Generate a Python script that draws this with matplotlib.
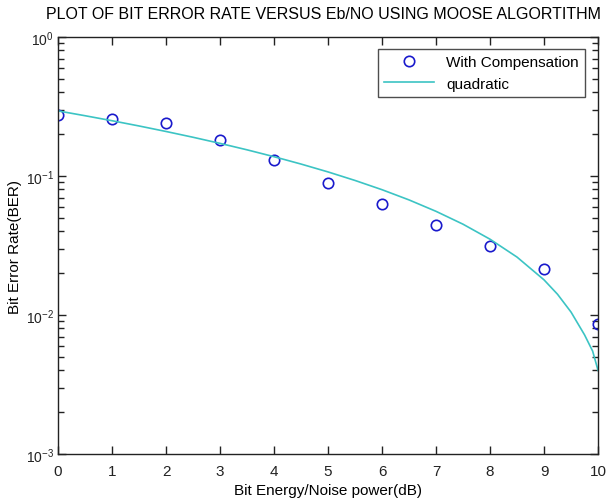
import matplotlib
matplotlib.use("Agg")
import matplotlib.pyplot as plt
from matplotlib.ticker import LogLocator, NullFormatter

plt.rcParams["font.family"] = ["Liberation Sans", "DejaVu Sans"]
plt.rcParams["mathtext.fontset"] = "custom"
plt.rcParams["mathtext.rm"] = "Liberation Sans"
plt.rcParams["mathtext.it"] = "Liberation Sans"

# Measured BER points
ebno = [0, 1, 2, 3, 4, 5, 6, 7, 8, 9, 10]
ber = [0.275, 0.257, 0.240, 0.182, 0.130, 0.089, 0.063, 0.0444, 0.0313, 0.0214, 0.0086]

# Quadratic fit curve
fit_x = [0, 0.5, 1, 1.5, 2, 2.5, 3, 3.5, 4, 4.5, 5, 5.5, 6, 6.5, 7, 7.5, 8, 8.5,
         9, 9.25, 9.5, 9.75, 9.9, 10]
fit_y = [0.294, 0.2715, 0.2499, 0.2291, 0.2091, 0.1900, 0.1717, 0.1543, 0.1377,
         0.1219, 0.107, 0.0929, 0.0797, 0.0673, 0.0557, 0.0450, 0.0351, 0.0261,
         0.0179, 0.0141, 0.0105, 0.0072, 0.0055, 0.004]

fig = plt.figure(figsize=(6.08, 5.02), dpi=100)
ax = fig.add_axes([0.0954, 0.0936, 0.8882, 0.8307])

ax.plot(ebno, ber, "o", mfc="none", mec="#1a1acc", mew=1.2, ms=7.5,
        label="With Compensation")
ax.plot(fit_x, fit_y, "-", color="#3cc4c4", lw=1.2, label="quadratic")

ax.set_yscale("log")
ax.set_xlim(0, 10)
ax.set_ylim(1e-3, 1)
ax.set_xticks(range(0, 11))
ax.yaxis.set_major_locator(LogLocator(base=10, numticks=10))
ax.yaxis.set_minor_locator(LogLocator(base=10, subs=range(2, 10), numticks=10))
ax.yaxis.set_minor_formatter(NullFormatter())

ax.tick_params(which="both", direction="in", top=True, right=True,
               colors="#222222")
ax.tick_params(axis="x", labelsize=11, pad=7)
ax.tick_params(axis="y", labelsize=10, pad=3)
ax.tick_params(which="major", length=6, width=1)
ax.tick_params(which="minor", length=4, width=1)
for sp in ax.spines.values():
    sp.set_color("#222222")
    sp.set_linewidth(1.0)

ax.set_xlabel("Bit Energy/Noise power(dB)", fontsize=11, labelpad=4)
ax.set_ylabel("Bit Error Rate(BER)", fontsize=11, labelpad=3)
ax.set_title("PLOT OF BIT ERROR RATE VERSUS Eb/NO USING MOOSE ALGORTITHM",
             fontsize=11.5, pad=14, x=0.492)

leg = ax.legend(loc="upper right", bbox_to_anchor=(0.99, 0.99), fontsize=11,
                handlelength=3.3, frameon=True, fancybox=False, borderpad=0.4,
                labelspacing=0.5)
leg.get_frame().set_edgecolor("#222222")
leg.get_frame().set_linewidth(1.0)

fig.savefig("out.png", dpi=100)
